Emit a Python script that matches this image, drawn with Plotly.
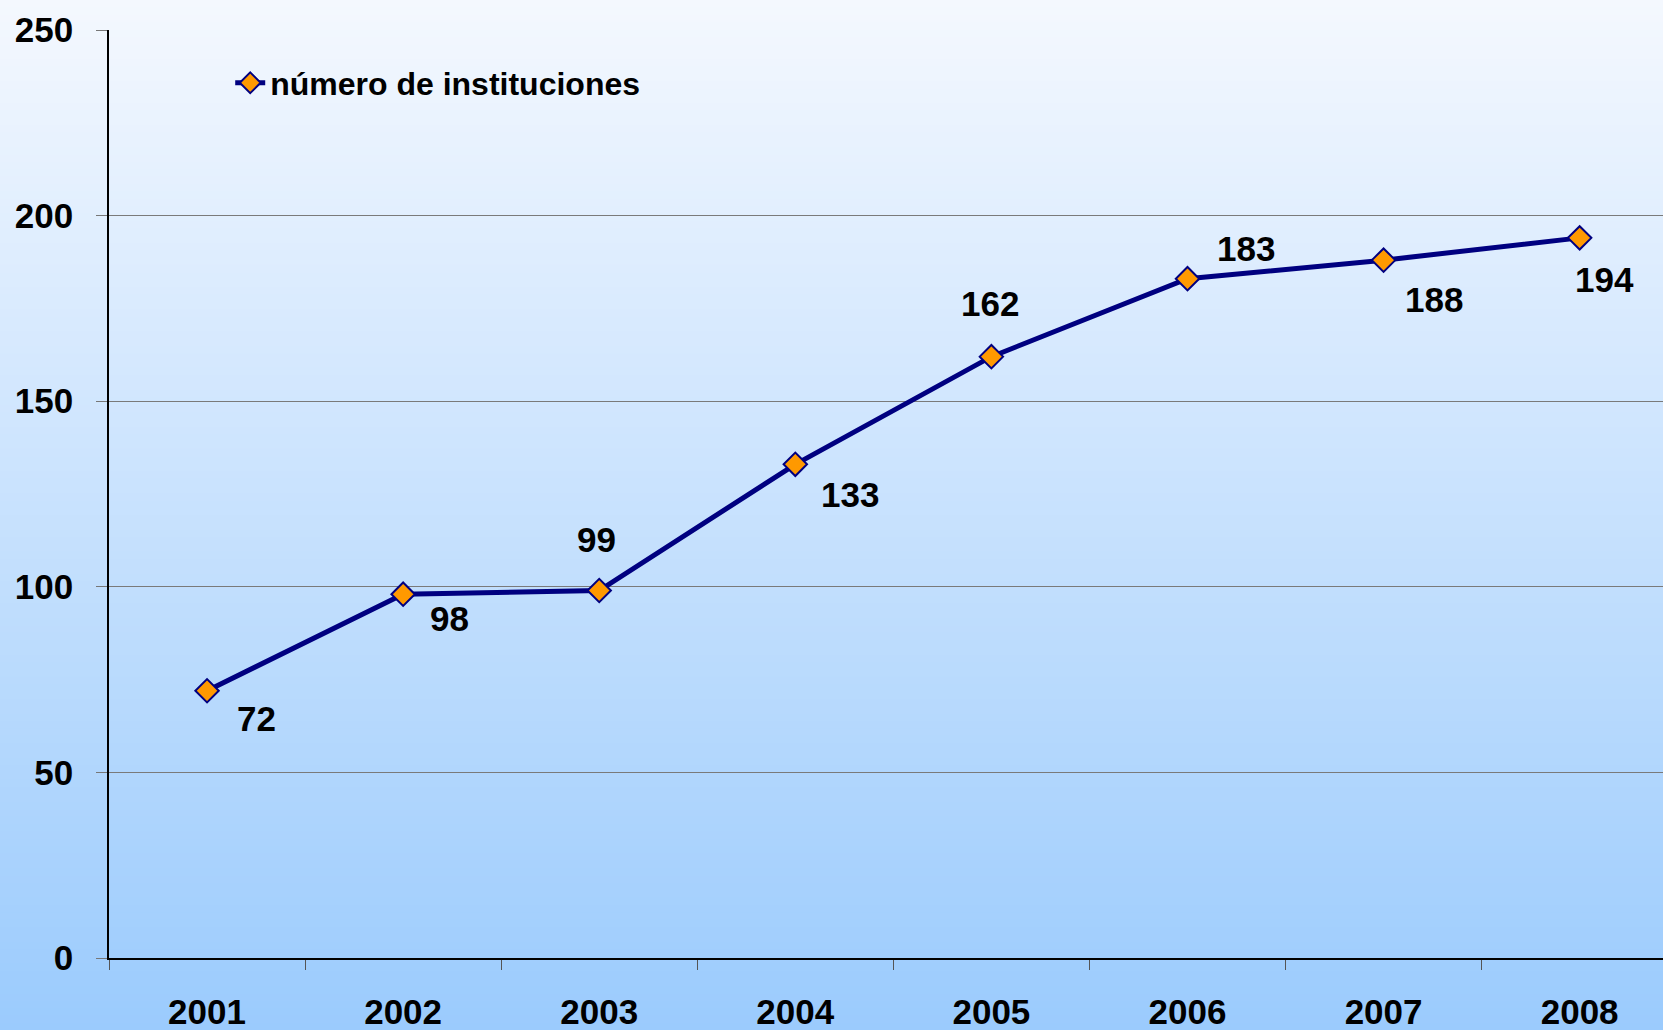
import plotly.graph_objects as go

# ---- data ----
years = ["2001", "2002", "2003", "2004", "2005", "2006", "2007", "2008"]
instituciones = [72, 98, 99, 133, 162, 183, 188, 194]
series_name = "número de instituciones"
y_ticks = [0, 50, 100, 150, 200, 250]

# ---- style ----
# per-label pixel offsets (dx right, dy up) relative to each marker
label_dx = [49, 46, -3, 55, -1, 59, 50, 25]
label_dy = [-28, -24, 51, -30, 53, 30, -39, -42]
FONT = "Liberation Sans, Arial, sans-serif"
W, H = 1663, 1030
L, R, T, B = 109, 0, 30, 72
top_rgb = (244, 248, 254)
bot_rgb = (155, 203, 253)
NAVY = "#000080"

fig = go.Figure()
fig.add_trace(go.Scatter(
    x=years, y=instituciones, name=series_name,
    mode="lines+markers",
    line=dict(color=NAVY, width=5),
    marker=dict(symbol="diamond", size=18, color="#FF9900",
                line=dict(color=NAVY, width=2)),
    cliponaxis=False,
))

annotations = []
for i, (yv, dx, dy) in enumerate(zip(instituciones, label_dx, label_dy)):
    annotations.append(dict(
        x=i, y=yv, xref="x", yref="y", text=str(yv), showarrow=False,
        xshift=dx, yshift=dy, xanchor="center", yanchor="middle",
        font=dict(family=FONT, size=35, color="black", weight="bold"),
    ))

# gradient background as horizontal strips (paper coords)
plot_h = H - T - B
plot_w = W - L - R
y_top = (H - B) / plot_h
y_bot = -B / plot_h
x_left = -L / plot_w
n = 140
shapes = []
for k_ in range(n):
    f = k_ / (n - 1)
    c = tuple(round(top_rgb[k] + (bot_rgb[k] - top_rgb[k]) * f) for k in range(3))
    y1 = y_top - (y_top - y_bot) * k_ / n
    y0 = y_top - (y_top - y_bot) * (k_ + 1) / n - 0.002
    shapes.append(dict(type="rect", xref="paper", yref="paper",
                       x0=x_left, x1=1.01, y0=y0, y1=y1,
                       fillcolor="rgb(%d,%d,%d)" % c, line=dict(width=0),
                       layer="below"))

fig.update_layout(
    width=W, height=H,
    margin=dict(l=L, r=R, t=T, b=B, pad=0),
    paper_bgcolor="rgb(%d,%d,%d)" % top_rgb,
    plot_bgcolor="rgba(0,0,0,0)",
    shapes=shapes,
    annotations=annotations,
    showlegend=True,
    legend=dict(x=0.078, y=0.943, xanchor="left", yanchor="middle",
                bgcolor="rgba(0,0,0,0)",
                font=dict(family=FONT, size=32, color="black", weight="bold")),
    font=dict(family=FONT, color="black"),
)
fig.update_xaxes(
    type="category", range=[-0.5, 7.425],
    tickson="boundaries", ticks="outside", ticklen=10, tickcolor="#555555",
    showline=True, linecolor="black", linewidth=2,
    showgrid=False, ticklabelstandoff=22,
    tickfont=dict(family=FONT, size=35, color="black", weight="bold"),
)
fig.update_yaxes(
    range=[0, 250], tickvals=y_ticks,
    ticks="outside", ticklen=11, tickcolor="#777777",
    showline=True, linecolor="black", linewidth=1.5,
    showgrid=True, gridcolor="#7a7a7a", gridwidth=1, zeroline=False,
    ticklabelstandoff=16,
    tickfont=dict(family=FONT, size=35, color="black", weight="bold"),
)
fig.write_html("out.html", config={"displayModeBar": False},
               post_script="document.body.style.margin='0';document.body.style.overflow='hidden';")
